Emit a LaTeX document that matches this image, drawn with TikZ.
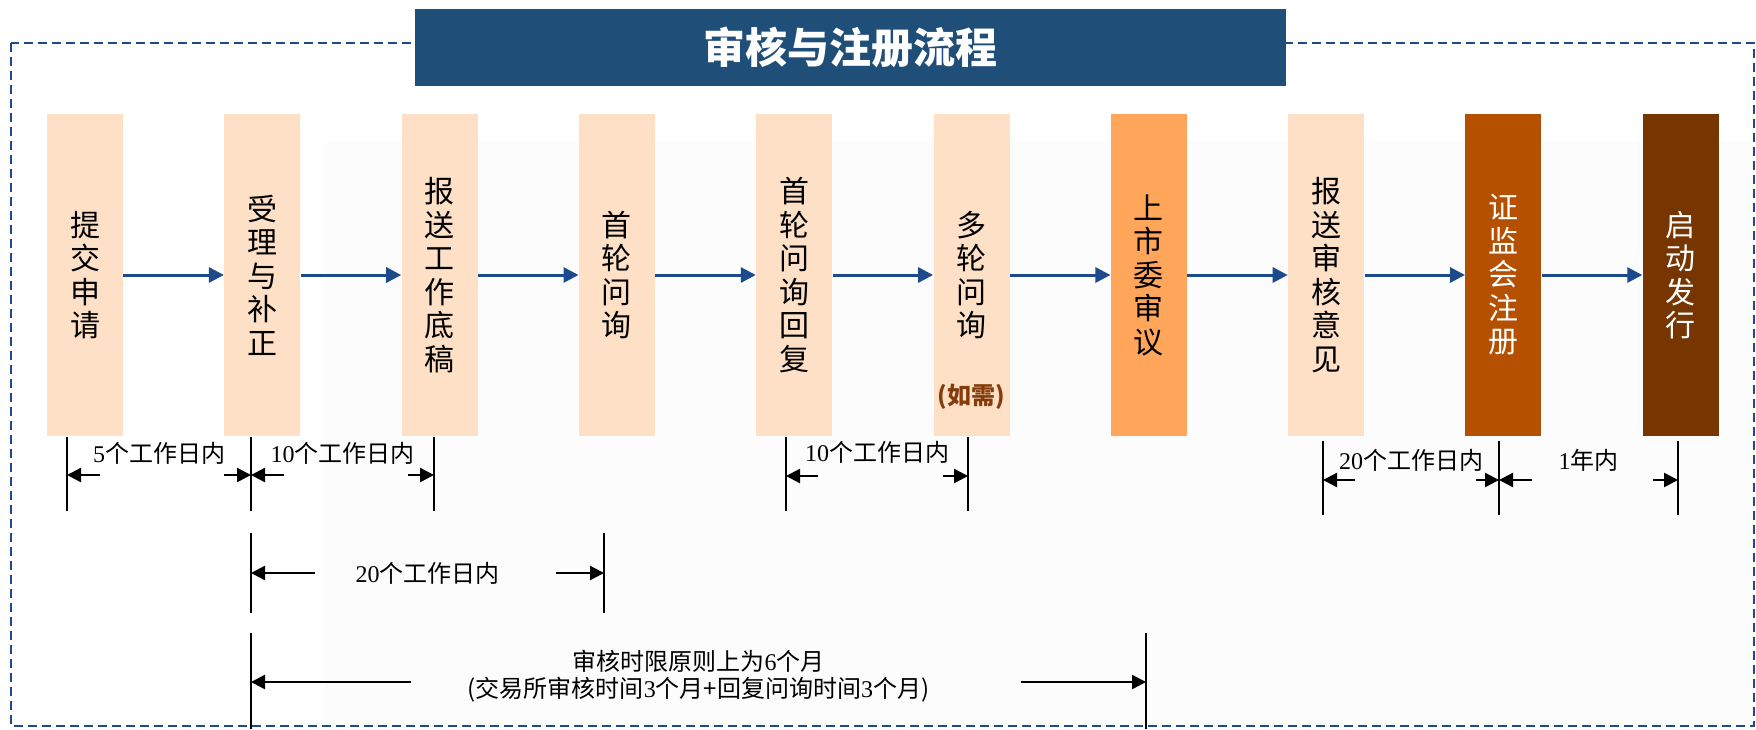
\documentclass[tikz,border=0pt]{standalone}
\usepackage{fontspec}
\setmainfont{Liberation Serif}
\newfontfamily\cjk{Noto Sans CJK SC}
\usepackage{tikz}
\usetikzlibrary{arrows.meta,positioning}
\definecolor{peach}{HTML}{FDE0C6}
\definecolor{council}{HTML}{FFA65A}
\definecolor{csrc}{HTML}{B45000}
\definecolor{launch}{HTML}{773600}
\definecolor{titleblue}{HTML}{1F4E79}
\definecolor{flowblue}{HTML}{1C4A8C}
\definecolor{notebrown}{HTML}{843C0C}
\tikzset{
  stage/.style={fill=peach,minimum width=38pt,minimum height=161pt,inner sep=0pt,
    align=center,font=\cjk\fontsize{15}{16.75}\selectfont},
  flow/.style={draw=flowblue,line width=1.5pt,-{Triangle[length=7.5pt,width=7.5pt]}},
  tick/.style={line width=0.6pt},
  dimarrow/.style={line width=1.2pt,-{Triangle[length=7pt,width=7pt]}},
  dimlabel/.style={inner sep=0pt,align=center,font=\fontsize{12}{13.5}\selectfont},
}
\newcommand{\zh}[1]{{\cjk #1}}
% x1, x2, tick top, tick bottom, arrow y, left shaft, right shaft, label, label shift
\newcommand{\timespan}[9]{%
  \draw[tick] (#1,#3) -- (#1,#4);
  \draw[tick] (#2,#3) -- (#2,#4);
  \draw[dimarrow] (#1+#6,#5) -- (#1,#5);
  \draw[dimarrow] (#2-#7,#5) -- (#2,#5);
  \node[dimlabel] at ({(#1+#2)/2},#5+#9) {#8};}

\begin{document}
\begin{tikzpicture}[x=0.5pt,y=-0.5pt]
\useasboundingbox (0,0) rectangle (1756,729);
% \draw[help lines,step=100] (0,0) grid (1756,729);
\fill[black!1] (325,142) rectangle (1754,726);
\draw[flowblue,line width=1pt,dash pattern=on 4.5pt off 2.5pt] (11,43) rectangle (1754,726);
\node (head) [fill=titleblue,minimum width=435.5pt,minimum height=38.5pt,text=white,
  font=\cjk\bfseries\fontsize{21}{21}\selectfont] at (850.5,47.5) {审核与注册流程};
%
\node (s1) [stage] at (85,275) {提\\交\\申\\请};
\node (s2) [stage] at (262.3,275) {受\\理\\与\\补\\正};
\node (s3) [stage] at (439.6,275) {报\\送\\工\\作\\底\\稿};
\node (s4) [stage] at (616.9,275) {首\\轮\\问\\询};
\node (s5) [stage] at (794.2,275) {首\\轮\\问\\询\\回\\复};
\node (s6) [stage] at (971.5,275) {多\\轮\\问\\询};
\node (s6n) [text=notebrown,font=\cjk\bfseries\fontsize{12}{12}\selectfont] at (971.5,397) {(如需)};
\node (s7) [stage,fill=council] at (1148.8,275) {上\\市\\委\\审\\议};
\node (s8) [stage] at (1326.1,275) {报\\送\\审\\核\\意\\见};
\node (s9) [stage,fill=csrc,text=white] at (1503.4,275) {证\\监\\会\\注\\册};
\node (s10) [stage,fill=launch,text=white] at (1680.7,275) {启\\动\\发\\行};
%
\draw[flow] (s1) -- (s2);
\draw[flow] (s2) -- (s3);
\draw[flow] (s3) -- (s4);
\draw[flow] (s4) -- (s5);
\draw[flow] (s5) -- (s6);
\draw[flow] (s6) -- (s7);
\draw[flow] (s7) -- (s8);
\draw[flow] (s8) -- (s9);
\draw[flow] (s9) -- (s10);
%
\timespan{67}{251}{437}{511}{475}{33}{27}{5\zh{个工作日内}}{-22}
\timespan{251}{434}{437}{511}{475}{33}{26}{10\zh{个工作日内}}{-22}
\timespan{786}{968}{437}{511}{476}{32}{25}{10\zh{个工作日内}}{-24}
\timespan{1323}{1499}{441}{515}{480}{32}{23}{20\zh{个工作日内}}{-20}
\timespan{1499}{1678}{441}{515}{480}{33}{25}{1\zh{年内}}{-20}
\timespan{251}{604}{533}{613}{573}{64}{48}{20\zh{个工作日内}}{0}
\timespan{251}{1146}{633}{729}{682}{160}{125}{\zh{审核时限原则上为}6\zh{个月}\\
  \zh{(交易所审核时间}3\zh{个月+回复问询时间}3\zh{个月)}}{-6}
%
\end{tikzpicture}
\end{document}
